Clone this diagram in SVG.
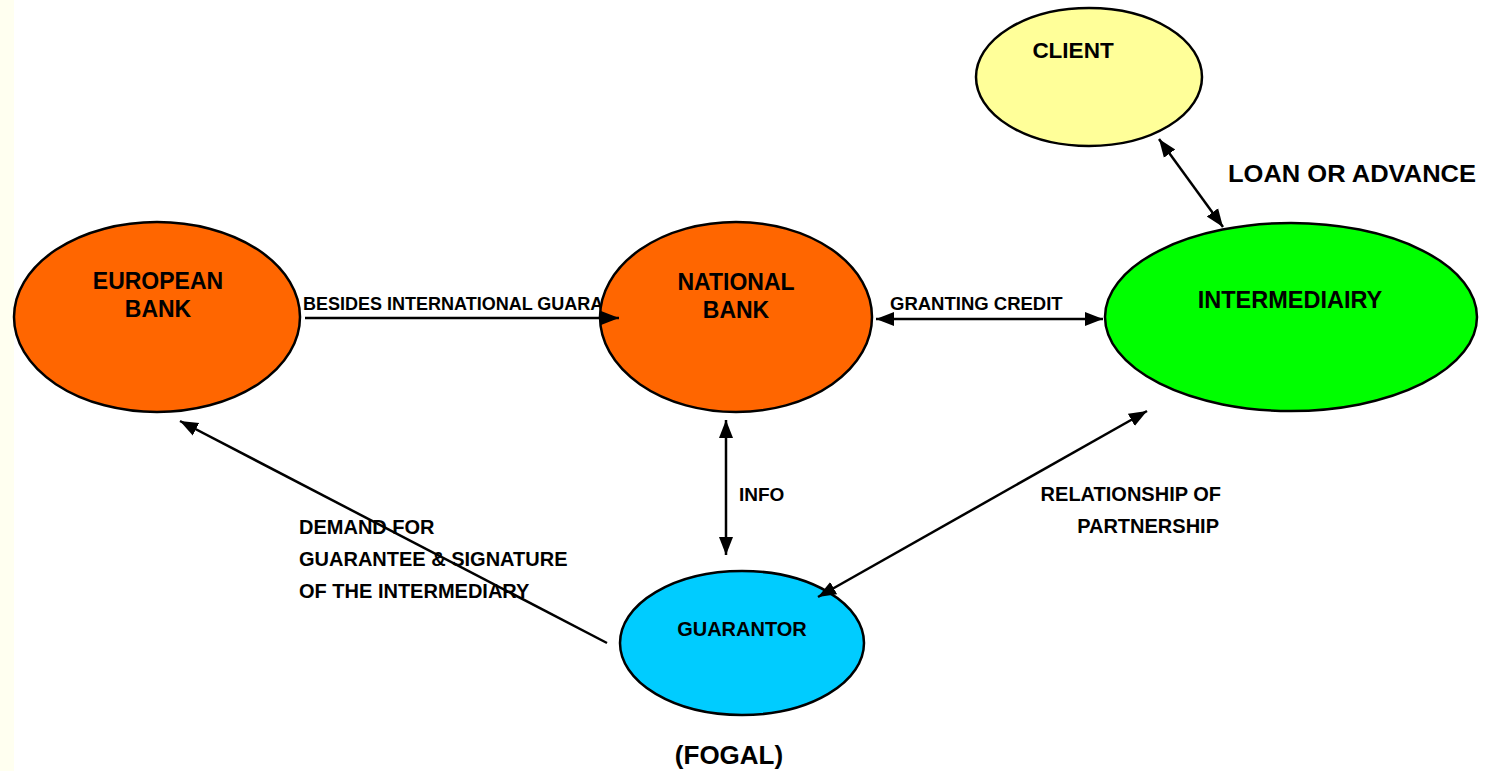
<svg xmlns="http://www.w3.org/2000/svg" width="1493" height="771" viewBox="0 0 1493 771">
<style>
  text { font-family: "Liberation Sans", Arial, sans-serif; font-weight: bold; fill: #000; }
  .node { stroke: #000; stroke-width: 2.5; }
  .conn { stroke: #000; stroke-width: 2.5; fill: none; }
  .c { text-anchor: middle; }
</style>
<defs>
  <marker id="ah" markerUnits="userSpaceOnUse" markerWidth="20" markerHeight="16" refX="18" refY="7" orient="auto-start-reverse" viewBox="0 0 20 14">
    <path d="M0,0 L18,7 L0,14 z" fill="#000"/>
  </marker>
</defs>
<rect x="0" y="0" width="1493" height="771" fill="#FFFFFF"/>
<rect x="0" y="0" width="14" height="771" fill="#FFFFF0"/>

<g id="label-besides">
  <text x="303" y="310" font-size="18">BESIDES INTERNATIONAL GUARA</text>
</g>

<g id="european-bank">
  <ellipse class="node" cx="157" cy="317" rx="143" ry="95" fill="#FF6600"/>
  <text class="c" x="158" y="289" font-size="23">EUROPEAN</text>
  <text class="c" x="158" y="317" font-size="23">BANK</text>
</g>
<g id="national-bank">
  <ellipse class="node" cx="736" cy="317" rx="136" ry="95" fill="#FF6600"/>
  <text class="c" x="736" y="290" font-size="23">NATIONAL</text>
  <text class="c" x="736" y="318" font-size="23">BANK</text>
</g>
<g id="intermediairy">
  <ellipse class="node" cx="1291" cy="317" rx="186" ry="94" fill="#00FF00"/>
  <text class="c" x="1290" y="308" font-size="23.5">INTERMEDIAIRY</text>
</g>
<g id="client">
  <ellipse class="node" cx="1089" cy="77" rx="113" ry="69" fill="#FFFF99"/>
  <text class="c" x="1073" y="58" font-size="22.5">CLIENT</text>
</g>
<g id="guarantor">
  <ellipse class="node" cx="742" cy="643" rx="122" ry="72" fill="#00CCFF"/>
  <text class="c" x="742" y="636" font-size="20">GUARANTOR</text>
</g>
<g id="fogal">
  <text class="c" x="729" y="764" font-size="26">(FOGAL)</text>
</g>

<g id="connectors">
  <path class="conn" d="M305,318 L619,318" stroke-width="3" marker-end="url(#ah)"/>
  <path class="conn" d="M876,319 L1103,319" marker-start="url(#ah)" marker-end="url(#ah)"/>
  <path class="conn" d="M1159,139 L1223,227" marker-start="url(#ah)" marker-end="url(#ah)"/>
  <path class="conn" d="M726,420 L726,555" marker-start="url(#ah)" marker-end="url(#ah)"/>
  <path class="conn" d="M818,597 L1147,411" marker-start="url(#ah)" marker-end="url(#ah)"/>
  <path class="conn" d="M607,643 L180,421" marker-end="url(#ah)"/>
  <text x="890" y="310" font-size="18.5">GRANTING CREDIT</text>
  <text x="1228" y="182" font-size="24" textLength="248" lengthAdjust="spacingAndGlyphs">LOAN OR ADVANCE</text>
  <text x="739" y="501" font-size="19">INFO</text>
  <text x="299" y="534" font-size="20">DEMAND FOR</text>
  <text x="299" y="566" font-size="20">GUARANTEE &amp; SIGNATURE</text>
  <text x="299" y="598" font-size="20">OF THE INTERMEDIARY</text>
  <text x="1221" y="501" font-size="20" text-anchor="end">RELATIONSHIP OF</text>
  <text x="1219" y="533" font-size="20" text-anchor="end">PARTNERSHIP</text>
</g>
</svg>
